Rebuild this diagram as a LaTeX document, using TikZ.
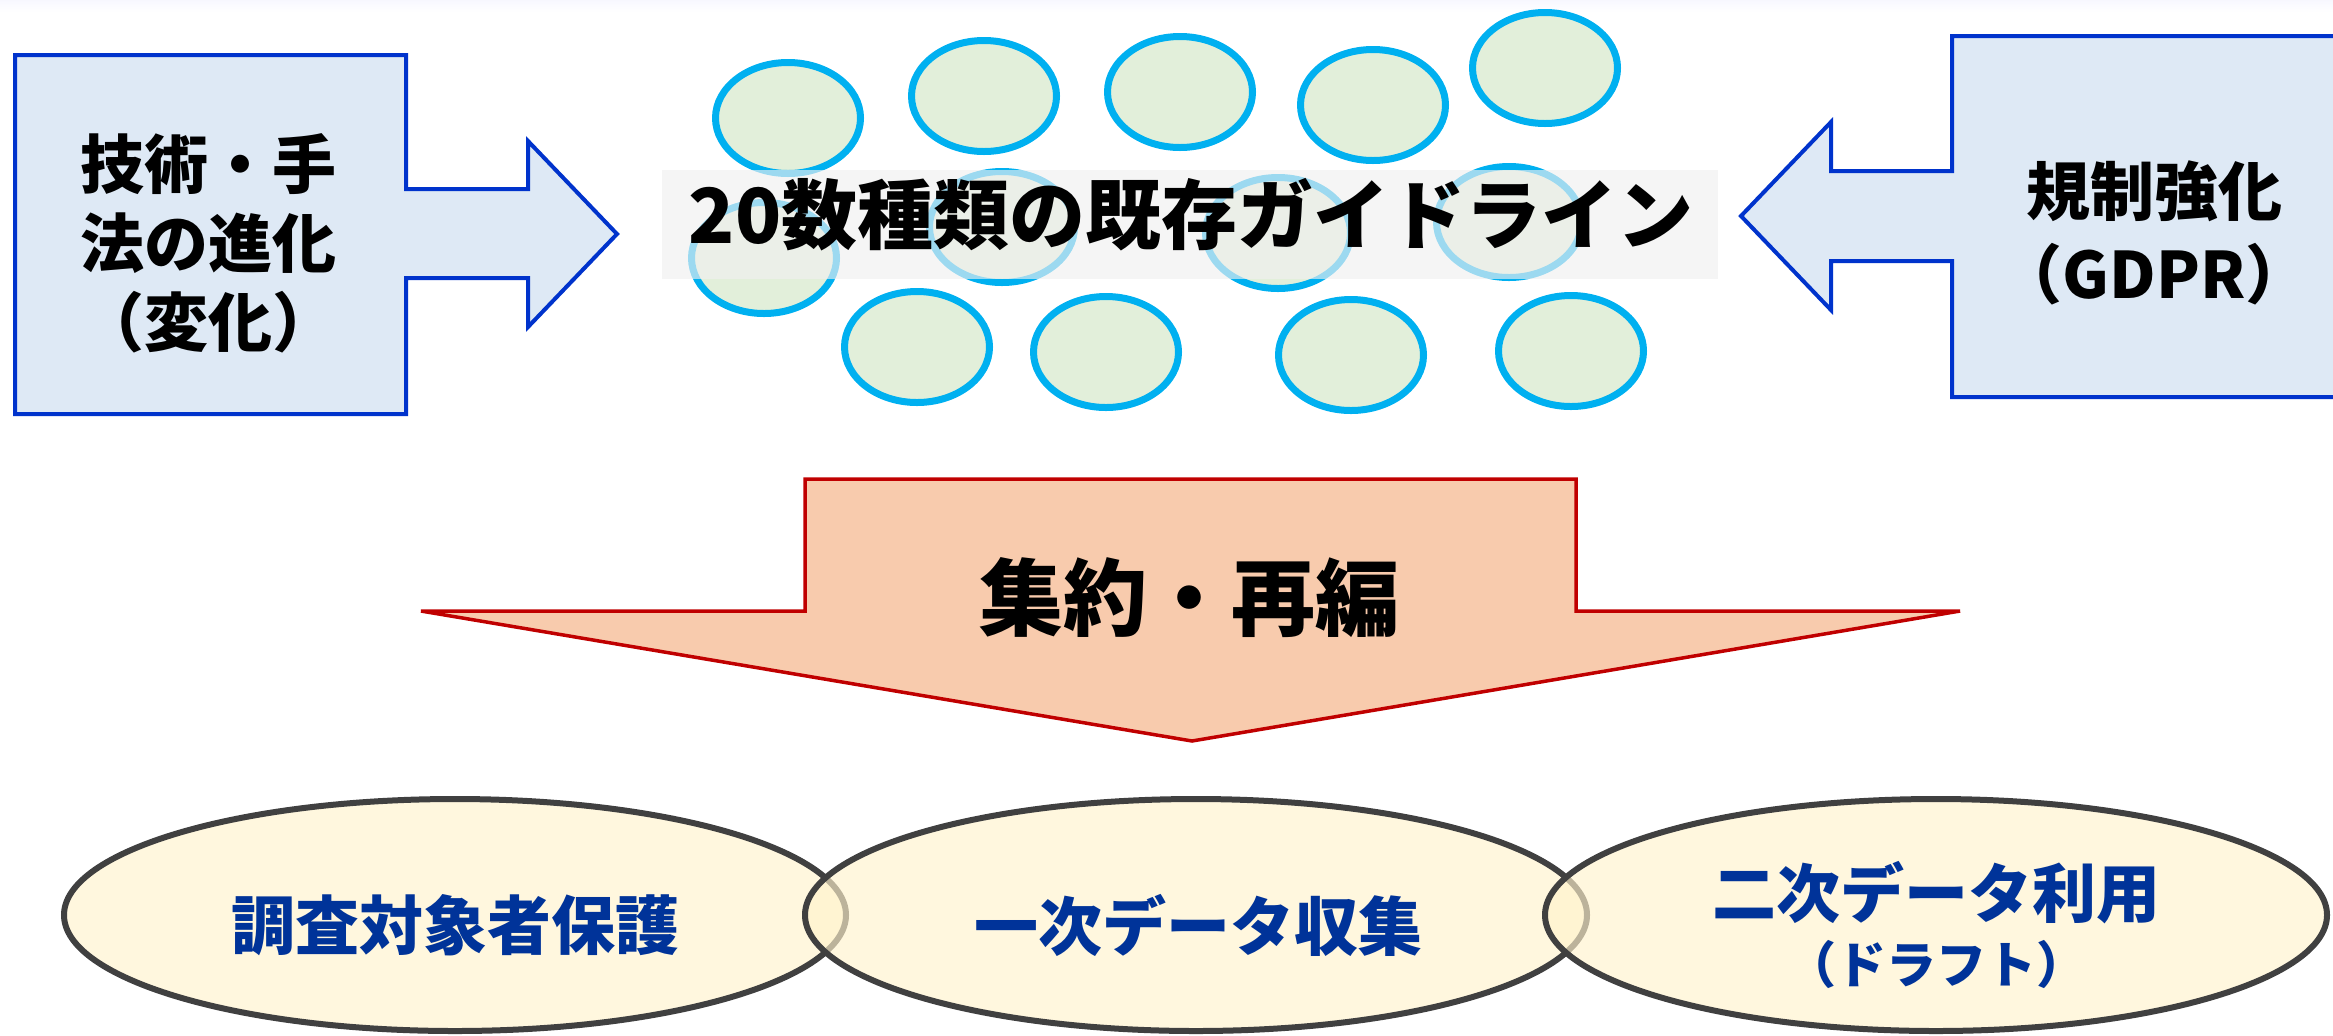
\documentclass[tikz,border=0pt]{standalone}
\usepackage{fontspec}
\newfontfamily\jp{Noto Sans CJK JP}
\definecolor{bluearrow}{HTML}{0033CC}
\definecolor{bluefill}{HTML}{DEE9F5}
\definecolor{cyanline}{HTML}{00B0F0}
\definecolor{greenfill}{HTML}{E2EFDA}
\definecolor{redline}{HTML}{C00000}
\definecolor{redfill}{HTML}{F8CBAD}
\definecolor{darkline}{HTML}{404040}
\definecolor{creamfill}{HTML}{FFF2CC}
\definecolor{navytext}{HTML}{003399}
\definecolor{greyband}{HTML}{F0F0F0}
\begin{document}
\begin{tikzpicture}[x=0.5pt,y=-0.5pt,
  bluearrowshape/.style={draw=bluearrow,fill=bluefill,line width=2pt,line join=miter},
  guide/.style={draw=cyanline,fill=greenfill,line width=3.5pt},
  redarrowshape/.style={draw=redline,fill=redfill,line width=1.75pt,line join=miter},
  phase/.style={draw=darkline,fill=creamfill,fill opacity=0.65,line width=3pt},
  blacklabel/.style={inner sep=0pt,align=center,text=black},
  navylabel/.style={inner sep=0pt,align=center,text=navytext}
]
\useasboundingbox (0,0) rectangle (2333,1035);
\clip (0,0) rectangle (2333,1035);
\fill[top color=black!7!blue!3!white,bottom color=white] (0,0) rectangle (2333,12);

% left arrow
\path[bluearrowshape] (15,55) -- (406,55) -- (406,189) -- (528,189) -- (528,141) -- (617,234)
  -- (528,327) -- (528,278) -- (406,278) -- (406,414) -- (15,414) -- cycle;
\node[blacklabel,font=\jp\bfseries\fontsize{32}{39.5}\selectfont] (tech) at (208,243)
  {技術・手\\法の進化\\（変化）};

% right arrow
\path[bluearrowshape] (2345,36) -- (1952,36) -- (1952,171) -- (1831,171) -- (1831,122) -- (1741,216)
  -- (1831,310) -- (1831,261) -- (1952,261) -- (1952,397) -- (2345,397) -- cycle;
\node[blacklabel,font=\jp\bfseries\fontsize{32}{41.5}\selectfont] (reg) at (2154,233)
  {規制強化\\（GDPR）};

% guideline ellipses
\foreach \cx/\cy in {788/118,984/96,1180/92,1373/105,1545/68,
                     764/258,1002/227,1278/233,1509/222,
                     917/347,1106/352,1351/355,1571/351}
  \path[guide] (\cx,\cy) ellipse [x radius=72.5, y radius=55.5];

% translucent title band
\fill[greyband,opacity=0.65] (662,170) rectangle (1718,279);
\node[blacklabel,font=\jp\bfseries\fontsize{38}{45}\selectfont] (title) at (1191,215)
  {20数種類の既存ガイドライン};

% red down arrow
\path[redarrowshape] (805,479) -- (1576,479) -- (1576,611) -- (1960,611) -- (1192,741)
  -- (421,611) -- (805,611) -- cycle;
\node[blacklabel,font=\jp\bfseries\fontsize{42}{50}\selectfont] (agg) at (1189,598)
  {集約・再編};

% bottom ellipses
\path[phase] (455,915) ellipse [x radius=391, y radius=116];
\path[phase] (1196,915) ellipse [x radius=391, y radius=116];
\path[phase] (1936,915) ellipse [x radius=391, y radius=116];
\node[navylabel,font=\jp\bfseries\fontsize{32}{38}\selectfont] (p1) at (455,925) {調査対象者保護};
\node[navylabel,font=\jp\bfseries\fontsize{32}{38}\selectfont] (p2) at (1198,925) {一次データ収集};
\node[navylabel,font=\jp\bfseries\fontsize{32}{38}\selectfont] (p3) at (1936,893) {二次データ利用};
\node[navylabel,font=\jp\bfseries\fontsize{25}{30}\selectfont] (p3b) at (1936,964) {（ドラフト）};
\end{tikzpicture}
\end{document}
